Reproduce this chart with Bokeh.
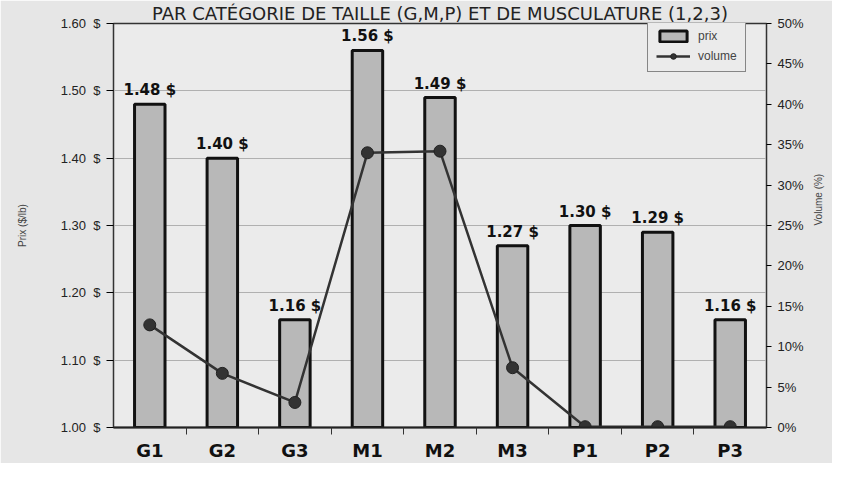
import math
from bokeh.plotting import figure
from bokeh.models import (Range1d, LinearAxis, FixedTicker, PrintfTickFormatter,
                          Legend, LegendItem, ColumnDataSource)
from bokeh.core.properties import value
from bokeh.embed import file_html
from bokeh.resources import INLINE

categories = ["G1", "G2", "G3", "M1", "M2", "M3", "P1", "P2", "P3"]
prix = [1.48, 1.40, 1.16, 1.56, 1.49, 1.27, 1.30, 1.29, 1.16]
volume = [12.7, 6.7, 3.1, 34.0, 34.2, 7.4, 0.1, 0.1, 0.1]
prix_labels = ["1.48 $", "1.40 $", "1.16 $", "1.56 $", "1.49 $", "1.27 $", "1.30 $", "1.29 $", "1.16 $"]
left_ticks = [1.00, 1.10, 1.20, 1.30, 1.40, 1.50, 1.60]
right_ticks = [0, 5, 10, 15, 20, 25, 30, 35, 40, 45, 50]
title_text = "PAR CATÉGORIE DE TAILLE (G,M,P) ET DE MUSCULATURE (1,2,3)"

xs = list(range(len(categories)))
src = ColumnDataSource(dict(x=xs, cat=categories, prix=prix, volume=volume, lab=prix_labels))

p = figure(width=832, height=463, x_range=Range1d(-0.5, len(categories) - 0.5),
           y_range=Range1d(1.0, 1.6), output_backend="svg", toolbar_location=None,
           min_border_left=113, min_border_right=62, min_border_top=20, min_border_bottom=28)

p.border_fill_color = "#e6e6e6"
p.background_fill_color = "#ebebeb"
p.outline_line_color = "#333333"
p.outline_line_width = 1.5

p.title.text = title_text
p.title.align = "center"
p.title.text_font = "DejaVu Sans"
p.title.text_font_style = "normal"
p.title.text_font_size = "18px"
p.title.text_color = "#222222"
p.title.standoff = 0
p.title.offset = 0

bars = p.vbar(x="x", top="prix", bottom=1.0, width=0.42, source=src,
              fill_color="#b8b8b8", line_color="#111111", line_width=3)
p.text(x="x", y="prix", text="lab", source=src, text_align="center", text_baseline="bottom",
       y_offset=-5, text_font=value("DejaVu Sans"), text_font_style="bold",
       text_font_size="15px", text_color="#111111")

p.extra_y_ranges = {"vol": Range1d(0, 50)}
line = p.line(x="x", y="volume", source=src, y_range_name="vol", line_color="#333333", line_width=2.5)
pts = p.scatter(x="x", y="volume", source=src, y_range_name="vol", size=12,
                fill_color="#333333", line_color="#222222")

# left axis
ya = p.yaxis[0]
ya.ticker = FixedTicker(ticks=left_ticks)
ya.formatter = PrintfTickFormatter(format="%.2f\u00a0\u00a0$")
ya.axis_label = "Prix ($/lb)"
ya.axis_label_text_font_size = "10px"
ya.axis_label_text_font_style = "normal"
ya.axis_label_text_font = "Liberation Sans"
ya.axis_label_standoff = 30
ya.major_label_text_font = "Liberation Sans"
ya.major_label_text_font_size = "13px"
ya.major_label_text_color = "#222222"
ya.major_tick_in = 0
ya.major_tick_out = 7
ya.minor_tick_line_color = None
ya.axis_line_color = "#333333"
ya.major_label_standoff = 6

p.ygrid.ticker = FixedTicker(ticks=left_ticks)
p.ygrid.grid_line_color = "#b0b0b0"
p.ygrid.grid_line_width = 1
p.xgrid.visible = False

# right axis
ra = LinearAxis(y_range_name="vol", ticker=FixedTicker(ticks=right_ticks),
                formatter=PrintfTickFormatter(format="%d%%"), axis_label="Volume (%)")
ra.axis_label_text_font_size = "10px"
ra.axis_label_text_font_style = "normal"
ra.axis_label_text_font = "Liberation Sans"
ra.axis_label_standoff = 12
ra.axis_label_orientation = math.pi / 2
ra.major_label_text_font = "Liberation Sans"
ra.major_label_text_font_size = "13px"
ra.major_label_text_color = "#222222"
ra.major_tick_in = 0
ra.major_tick_out = 5
ra.minor_tick_line_color = None
ra.axis_line_color = "#333333"
ra.major_label_standoff = 6
p.add_layout(ra, "right")

# bottom axis
xa = p.xaxis[0]
xa.ticker = FixedTicker(ticks=xs, minor_ticks=[i + 0.5 for i in xs[:-1]])
xa.major_label_overrides = {i: c for i, c in zip(xs, categories)}
xa.major_label_text_font = "DejaVu Sans"
xa.major_label_text_font_style = "bold"
xa.major_label_text_font_size = "18px"
xa.major_label_text_color = "#111111"
xa.major_tick_out = 0
xa.major_tick_in = 0
xa.minor_tick_out = 7
xa.minor_tick_in = 0
xa.minor_tick_line_color = "#333333"
xa.axis_line_color = "#222222"
xa.axis_line_width = 2
xa.major_label_standoff = 5

legend = Legend(items=[LegendItem(label="prix", renderers=[bars]),
                       LegendItem(label="volume", renderers=[line, pts])],
                location=(534, 355))
legend.background_fill_color = "#ebebeb"
legend.background_fill_alpha = 1
legend.border_line_color = "#222222"
legend.border_line_width = 1
legend.label_text_font = "Liberation Sans"
legend.label_text_font_size = "12px"
legend.glyph_width = 34
legend.glyph_height = 14
legend.spacing = 6
legend.padding = 8
legend.label_standoff = 8
p.add_layout(legend)

open("out.html", "w").write(file_html(p, INLINE))
